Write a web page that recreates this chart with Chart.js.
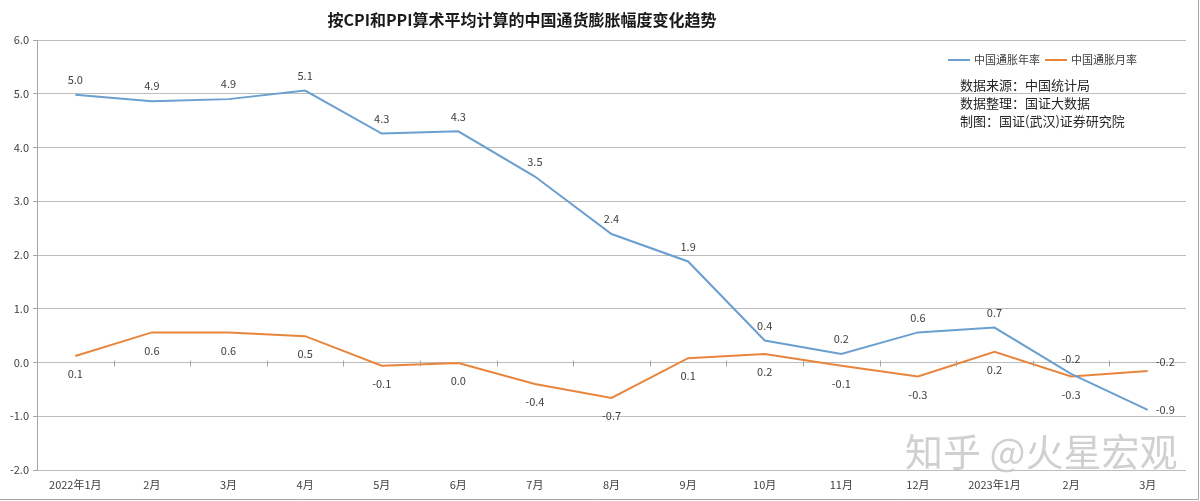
<!DOCTYPE html>
<html>
<head>
<meta charset="utf-8">
<script src="https://cdn.jsdelivr.net/npm/chart.js@4"></script>
<style>
  html, body { margin: 0; padding: 0; background: #fff; }
  #wrap { width: 1200px; height: 501px; position: relative; }
</style>
</head>
<body>
<div id="wrap"><canvas id="InflationChart" width="1200" height="501"></canvas></div>
<script>
// data
let monthArr = ['2022年1月','2月','3月','4月','5月','6月','7月','8月','9月','10月','11月','12月','2023年1月','2月','3月'];
let yearRateArr = [4.98,4.86,4.9,5.06,4.26,4.3,3.46,2.39,1.88,0.41,0.16,0.56,0.65,-0.21,-0.88];
let monthRateArr = [0.12,0.56,0.56,0.49,-0.06,-0.01,-0.4,-0.66,0.08,0.16,-0.06,-0.26,0.2,-0.26,-0.16];
let yTicks = [-2,-1,0,1,2,3,4,5,6];
let noteLines = ['数据来源：中国统计局','数据整理：国证大数据','制图：国证(武汉)证券研究院'];

const FONT = '"Noto Sans CJK SC", "Noto Sans", sans-serif';
const BLUE = '#6a9fcf';
const ORANGE = '#e8853d';

// title, legend, notes, data labels, watermark
const extras = {
    id: 'extras',
    afterDatasetsDraw(chart) {
        const c = chart.ctx;
        const y = chart.scales.y;
        const x = chart.scales.x;
        c.save();

        // small tick marks along the zero line
        c.strokeStyle = '#a6a6a6';
        c.lineWidth = 1;
        const y0 = Math.round(y.getPixelForValue(0)) + 0.5;
        const step = (x.right - x.left) / monthArr.length;
        for (let i = 1; i < monthArr.length; i++) {
            const px = Math.round(x.left + step * i) + 0.5;
            c.beginPath(); c.moveTo(px, y0 - 3); c.lineTo(px, y0 + 3); c.stroke();
        }

        // data labels
        c.fillStyle = '#404040';
        c.font = '11px ' + FONT;
        c.textAlign = 'center';
        c.textBaseline = 'middle';
        const fmt = v => (Math.round(v * 10) / 10).toFixed(1);
        chart.data.datasets.forEach((ds, di) => {
            chart.getDatasetMeta(di).data.forEach((pt, i) => {
                let lx = pt.x, ly = pt.y;
                const last = i === ds.data.length - 1;
                if (last) {
                    c.textAlign = 'left';
                    lx += 8;
                    ly += di === 0 ? 0 : -9;
                } else {
                    c.textAlign = 'center';
                    ly += di === 0 ? -15 : 18;
                }
                c.fillText(fmt(ds.data[i]), lx, ly);
            });
        });

        // title
        c.fillStyle = '#1a1a1a';
        c.font = 'bold 16px ' + FONT;
        c.textAlign = 'center';
        c.fillText('按CPI和PPI算术平均计算的中国通货膨胀幅度变化趋势', 522, 20);

        // legend
        c.font = '11px ' + FONT;
        c.textAlign = 'left';
        c.lineWidth = 2;
        [[948, BLUE, chart.data.datasets[0].label], [1045, ORANGE, chart.data.datasets[1].label]].forEach(([lx, col, txt]) => {
            c.strokeStyle = col;
            c.beginPath(); c.moveTo(lx, 60); c.lineTo(lx + 22, 60); c.stroke();
            c.fillStyle = '#404040';
            c.fillText(txt, lx + 26, 60);
        });

        // notes
        c.font = '13px ' + FONT;
        c.fillStyle = '#262626';
        noteLines.forEach((t, i) => c.fillText(t, 960, 85 + i * 18));

        // watermark
        c.font = '38px ' + FONT;
        c.fillStyle = 'rgba(200,200,200,0.85)';
        c.fillText('知乎 @火星宏观', 905, 452);

        // outer frame lines (bottom and right)
        c.strokeStyle = '#a6a6a6';
        c.lineWidth = 1;
        c.beginPath(); c.moveTo(0, 499.5); c.lineTo(1198.5, 499.5); c.lineTo(1198.5, 0); c.stroke();

        c.restore();
    }
};

const ctx = document.getElementById('InflationChart').getContext('2d');

const myChart = new Chart(ctx, {
    type: 'line',
    data: {
        labels: monthArr,
        datasets: [{
                label: '中国通胀年率',
                data: yearRateArr,
                borderColor: BLUE,
                backgroundColor: BLUE,
                borderWidth: 2,
                pointRadius: 0,
                tension: 0
            },
            {
                label: '中国通胀月率',
                data: monthRateArr,
                borderColor: ORANGE,
                backgroundColor: ORANGE,
                borderWidth: 2,
                pointRadius: 0,
                tension: 0
            }]
    },
    options: {
        responsive: false,
        animation: false,
        layout: {
            padding: { top: 40, right: 14, left: 0, bottom: 0 }
        },
        scales: {
            x: {
                offset: true,
                grid: { display: false, offset: true, drawTicks: false },
                border: { display: false },
                ticks: {
                    color: '#404040',
                    font: { family: FONT, size: 11 },
                    maxRotation: 0,
                    autoSkip: false,
                    padding: 8
                },
                afterFit(scale) { scale.height = 31; }
            },
            y: {
                min: -2,
                max: 6,
                afterBuildTicks(scale) {
                    scale.ticks = yTicks.map(v => ({ value: v }));
                },
                grid: {
                    color: '#bdbdbd',
                    tickLength: 4,
                    tickColor: '#a6a6a6'
                },
                border: { display: true, color: '#a6a6a6' },
                ticks: {
                    color: '#404040',
                    font: { family: FONT, size: 11 },
                    padding: 4,
                    callback: v => v.toFixed(1)
                },
                afterFit(scale) { scale.width = 37; }
            }
        },
        plugins: {
            legend: { display: false },
            tooltip: { enabled: false }
        }
    },
    plugins: [extras]
});
</script>
</body>
</html>
